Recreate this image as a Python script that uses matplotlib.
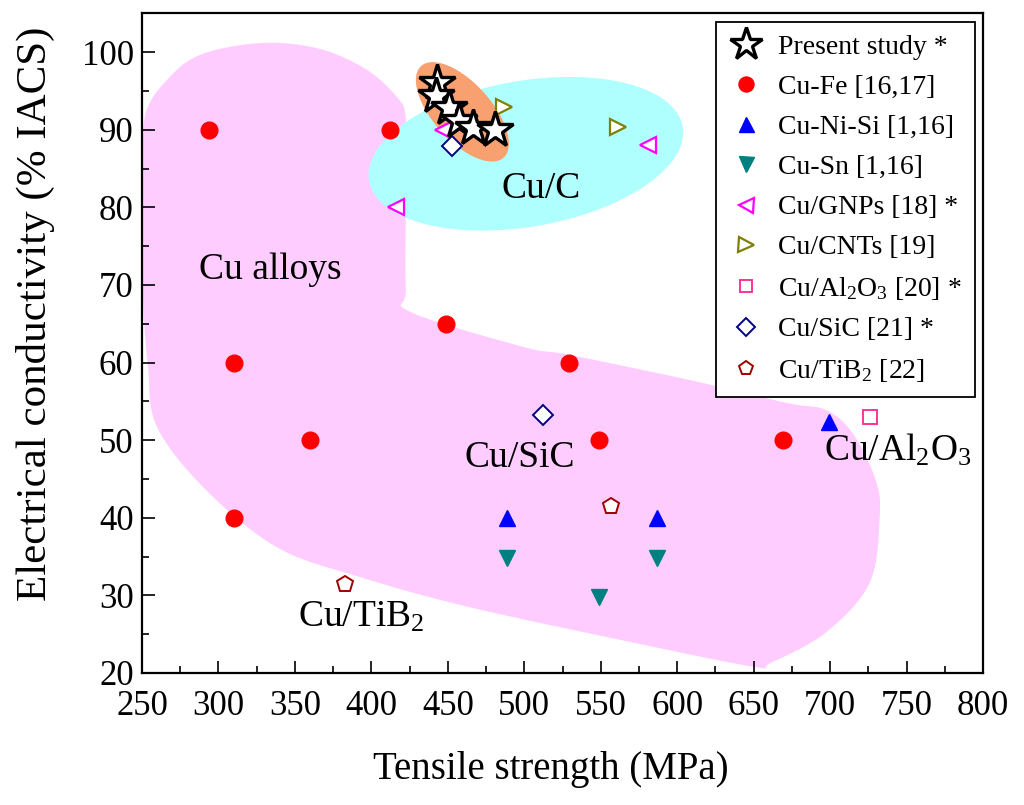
import numpy as np
import matplotlib
matplotlib.use("Agg")
import matplotlib.pyplot as plt
from matplotlib.ticker import MultipleLocator

plt.rcParams['font.family'] = ['Liberation Serif', 'DejaVu Serif']
plt.rcParams['mathtext.fontset'] = 'custom'
plt.rcParams['mathtext.rm'] = 'Liberation Serif'
plt.rcParams['mathtext.it'] = 'Liberation Serif:italic'
plt.rcParams['mathtext.bf'] = 'Liberation Serif:bold'

# ---------------- data ----------------
present_x = [443, 442, 451, 457, 466.5, 481]
present_y = [96.0, 94.3, 92.8, 91.1, 90.2, 89.9]

cufe_x = [294, 412, 310, 449, 529, 360, 549, 669, 310]
cufe_y = [90, 90, 60, 65, 60, 50, 50, 50, 40]

cunisi_x = [489, 587, 699]
cunisi_y = [40, 40, 52.4]

cusn_x = [489, 587, 549]
cusn_y = [34.8, 34.8, 29.8]

gnp_x = [447, 416, 581]
gnp_y = [90, 80, 88]

cnt_x = [487, 561]
cnt_y = [92.9, 90.4]

al2o3_x = [726]
al2o3_y = [53]

sic_x = [453, 512]
sic_y = [87.9, 53.3]

tib2_x = [557, 383]
tib2_y = [41.5, 31.5]

# shaded region outlines (data units)
alloy_x = [250.0, 250.7, 255.2, 266.3, 281.4, 302.9, 335.6, 368.3, 397.1, 416.7,
           422.5, 422.5, 422.5, 425.8, 499.7, 529.1, 606.9, 671.6, 697.1, 714.7,
           729.7, 732.4, 725.8, 697.1, 661.1, 650.0, 571.6, 463.7, 391.8, 338.2,
           291.8, 259.8, 253.9, 250.7]
alloy_y = [81.0, 90.0, 93.5, 96.4, 99.0, 100.5, 101.2, 100.3, 97.7, 94.2,
           91.3, 81.0, 69.4, 66.5, 62.0, 61.0, 57.8, 54.8, 53.9, 50.9,
           44.9, 40.1, 31.6, 25.2, 21.3, 20.8, 23.9, 28.5, 32.4, 36.2,
           43.6, 51.7, 59.4, 68.1]

cuc_center = (501.0, 86.9)
cuc_axis1 = (102.6, 3.48)
cuc_axis2 = (-8.1, 9.27)

present_center = (459.5, 92.3)
present_axis1 = (27.0, -5.9)
present_axis2 = (14.0, 2.5)


def catmull_rom_closed(xs, ys, n=20):
    P = np.column_stack([xs, ys]).astype(float)
    m = len(P)
    out = []
    t = np.linspace(0, 1, n, endpoint=False)[:, None]
    for i in range(m):
        p0, p1, p2, p3 = P[(i - 1) % m], P[i], P[(i + 1) % m], P[(i + 2) % m]
        seg = 0.5 * ((2 * p1) + (-p0 + p2) * t + (2 * p0 - 5 * p1 + 4 * p2 - p3) * t ** 2
                     + (-p0 + 3 * p1 - 3 * p2 + p3) * t ** 3)
        out.append(seg)
    return np.vstack(out)


def ellipse_pts(c, a, b, n=200):
    t = np.linspace(0, 2 * np.pi, n)
    x = c[0] + a[0] * np.cos(t) + b[0] * np.sin(t)
    y = c[1] + a[1] * np.cos(t) + b[1] * np.sin(t)
    return x, y


fig = plt.figure(figsize=(10.24, 8.05), dpi=100)
ax = fig.add_axes([0.1387, 0.164, 0.8213, 0.8195])

pts = catmull_rom_closed(alloy_x, alloy_y)
ax.fill(pts[:, 0], pts[:, 1], color='#FFCCFF', lw=0, zorder=1)
ex, ey = ellipse_pts(cuc_center, cuc_axis1, cuc_axis2)
ax.fill(ex, ey, color='#B0FFFF', lw=0, zorder=2)
ex, ey = ellipse_pts(present_center, present_axis1, present_axis2)
ax.fill(ex, ey, color='#F9A070', lw=0, zorder=3)

ms_small = 12
ax.plot(cufe_x, cufe_y, 'o', ms=ms_small, mfc='#FF0000', mec='#FF0000', ls='none',
        zorder=5, label='Cu-Fe [16,17]')
ax.plot(cunisi_x, cunisi_y, '^', ms=ms_small, mfc='#0000FF', mec='#0000FF', ls='none',
        zorder=5, label='Cu-Ni-Si [1,16]')
ax.plot(cusn_x, cusn_y, 'v', ms=ms_small, mfc='#008080', mec='#008080', ls='none',
        zorder=5, label='Cu-Sn [1,16]')
ax.plot(gnp_x, gnp_y, '<', ms=ms_small, mfc='white', mec='#FF00FF', mew=1.6, ls='none',
        zorder=5, label='Cu/GNPs [18] *')
ax.plot(cnt_x, cnt_y, '>', ms=ms_small, mfc='white', mec='#808000', mew=1.6, ls='none',
        zorder=5, label='Cu/CNTs [19]')
ax.plot(al2o3_x, al2o3_y, 's', ms=10, mfc='white', mec='#FF3399', mew=1.4, ls='none',
        zorder=5, label='Cu/Al$_2$O$_3$ [20] *')
ax.plot(sic_x, sic_y, 'D', ms=10, mfc='white', mec='#000080', mew=1.4, ls='none',
        zorder=5, label='Cu/SiC [21] *')
ax.plot(tib2_x, tib2_y, 'p', ms=12, mfc='white', mec='#A00000', mew=1.4, ls='none',
        zorder=5, label='Cu/TiB$_2$ [22]')
ax.plot(present_x, present_y, '*', ms=27, mfc='white', mec='black', mew=2.4, ls='none',
        zorder=6, label='Present study *')

handles, labels = ax.get_legend_handles_labels()
order = [8, 0, 1, 2, 3, 4, 5, 6, 7]
leg = ax.legend([handles[i] for i in order], [labels[i] for i in order],
                loc='upper right', fontsize=20, frameon=True, fancybox=False,
                edgecolor='black', framealpha=1, borderaxespad=0.3,
                labelspacing=0.53, handletextpad=0.55, handlelength=1.25,
                borderpad=0.45, numpoints=1, markerscale=0.9)
leg.get_frame().set_linewidth(1.3)
leg.set_zorder(10)

txt_kw = dict(fontsize=27, color='black', zorder=7)
ax.text(333.7, 71.9, 'Cu alloys', ha='center', va='center', **txt_kw)
ax.text(511, 82.4, 'Cu/C', ha='center', va='center', **txt_kw)
ax.text(497, 47.7, 'Cu/SiC', ha='center', va='center', **txt_kw)
ax.text(696, 47.4, 'Cu/Al$_2$O$_3$', ha='left', va='baseline', **txt_kw)
ax.text(352, 26.0, 'Cu/TiB$_2$', ha='left', va='baseline', **txt_kw)

ax.set_xlim(250, 800)
ax.set_ylim(20, 105)
ax.xaxis.set_major_locator(MultipleLocator(50))
ax.xaxis.set_minor_locator(MultipleLocator(25))
ax.yaxis.set_minor_locator(MultipleLocator(5))
ax.set_yticks(np.arange(20, 101, 10))
ax.tick_params(which='both', direction='in', top=False, right=False, labelsize=25, width=1.2)
ax.tick_params(which='major', length=9)
ax.tick_params(which='minor', length=5)
ax.tick_params(axis='x', which='major', pad=12)
ax.tick_params(axis='y', which='major', pad=6)
for s in ax.spines.values():
    s.set_linewidth(1.6)

ax.set_xlabel('Tensile strength (MPa)', fontsize=28)
ax.set_ylabel('Electrical conductivity (% IACS)', fontsize=31)
ax.xaxis.set_label_coords(0.486, -0.147)
ax.yaxis.set_label_coords(-0.127, 0.545)
ax.xaxis.label.set_va('center')
ax.yaxis.label.set_va('center')

fig.savefig('out.png', dpi=100)
